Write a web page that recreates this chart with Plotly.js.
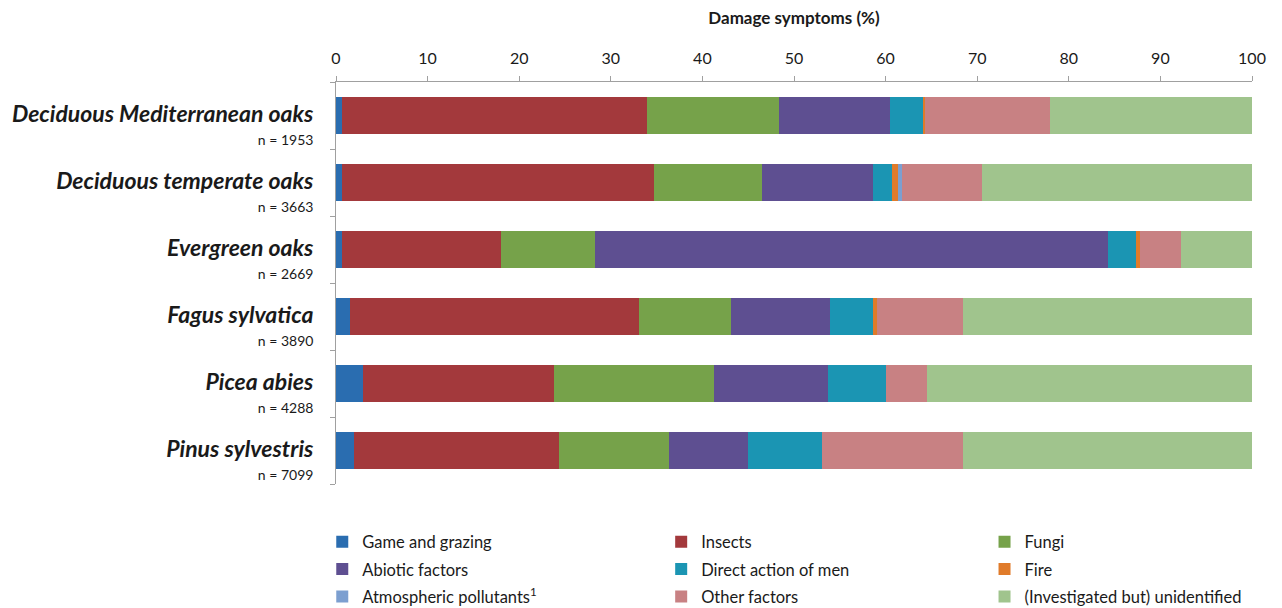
<!DOCTYPE html>
<html>
<head>
<meta charset="utf-8">
<script src="https://cdn.plot.ly/plotly-3.0.1.min.js"></script>
<style>html,body{margin:0;padding:0;background:#fff;}#chart{width:1282px;height:608px;}</style>
</head>
<body>
<div id="chart"></div>
<script>
// Categories (top to bottom) and sample sizes
const species = ["Deciduous Mediterranean oaks", "Deciduous temperate oaks", "Evergreen oaks", "Fagus sylvatica", "Picea abies", "Pinus sylvestris"];
const sampleN = [1953, 3663, 2669, 3890, 4288, 7099];

// Damage symptom shares (%) per species
const gameGrazing   = [0.6, 0.6, 0.6, 1.5, 2.9, 2.0];
const insects       = [33.3, 34.1, 17.4, 31.6, 20.9, 22.3];
const fungi         = [14.5, 11.8, 10.3, 10.0, 17.5, 12.1];
const abiotic       = [12.1, 12.1, 56.0, 10.8, 12.4, 8.6];
const directMen     = [3.6, 2.1, 3.0, 4.7, 6.3, 8.1];
const fire          = [0.2, 0.7, 0.5, 0.5, 0.0, 0.0];
const atmospheric   = [0.0, 0.4, 0.0, 0.0, 0.0, 0.0];
const otherFactors  = [13.7, 8.7, 4.4, 9.3, 4.5, 15.4];
const unidentified  = [22.0, 29.5, 7.8, 31.6, 35.5, 31.5];

const seriesNames = ["Game and grazing", "Insects", "Fungi", "Abiotic factors", "Direct action of men", "Fire", "Atmospheric pollutants<sup>1</sup>", "Other factors", "(Investigated but) unidentified"];
const seriesValues = [gameGrazing, insects, fungi, abiotic, directMen, fire, atmospheric, otherFactors, unidentified];
const seriesColors = ["#2a6db0", "#a3393c", "#76a24a", "#5e4f91", "#1b95b3", "#e07b2a", "#7c9fd0", "#c88183", "#a0c48d"];
const seriesLegend = ["legend", "legend2", "legend3", "legend", "legend2", "legend3", "legend", "legend2", "legend3"];

const tickText = species.map((s, i) => "<span style=\"font-size:23px\"><b><i>" + s + "</i></b></span><br><span style=\"font-size:14px\">n = " + sampleN[i] + "</span>");

const traces = seriesNames.map((name, k) => ({
  type: "bar",
  orientation: "h",
  name: name,
  x: seriesValues[k],
  y: species,
  marker: {color: seriesColors[k], line: {width: 0}},
  legend: seriesLegend[k],
  legendgroup: "g" + k,
  hoverinfo: "x+name"
}));

const font = "Lato, 'Open Sans', sans-serif";
const legendCommon = {
  orientation: "v",
  yref: "container",
  yanchor: "top",
  y: 0.1375,
  xanchor: "left",
  traceorder: "grouped",
  tracegroupgap: 3,
  bgcolor: "rgba(0,0,0,0)",
  font: {family: font, size: 16.5, color: "#1a1a1a"},
  itemclick: false
};

const layout = {
  width: 1282,
  height: 608,
  margin: {l: 336, r: 30, t: 82, b: 124},
  barmode: "stack",
  bargap: 0.44,
  paper_bgcolor: "#ffffff",
  plot_bgcolor: "#ffffff",
  font: {family: font, color: "#1a1a1a"},
  xaxis: {
    side: "top",
    range: [0, 100],
    dtick: 10,
    tick0: 0,
    ticks: "outside",
    ticklen: 5,
    tickcolor: "#a0a0a0",
    showline: true,
    linecolor: "#a0a0a0",
    linewidth: 1,
    showgrid: false,
    zeroline: false,
    ticklabelstandoff: 6,
    tickfont: {family: font, size: 16, color: "#1a1a1a"},
    title: {text: "<b>Damage symptoms (%)</b>", font: {family: font, size: 17, color: "#1a1a1a"}, standoff: 18}
  },
  yaxis: {
    type: "category",
    autorange: "reversed",
    tickmode: "array",
    tickvals: species,
    ticktext: tickText,
    tickson: "boundaries",
    ticks: "outside",
    ticklen: 5,
    tickcolor: "#a0a0a0",
    showline: true,
    linecolor: "#a0a0a0",
    linewidth: 1,
    showgrid: false,
    zeroline: false,
    ticklabelstandoff: 18,
    ticklabelshift: -12,
    tickfont: {family: font, size: 18, color: "#1a1a1a"}
  },
  showlegend: true,
  legend: Object.assign({}, legendCommon, {x: -0.015}),
  legend2: Object.assign({}, legendCommon, {x: 0.355}),
  legend3: Object.assign({}, legendCommon, {x: 0.708})
};

Plotly.newPlot("chart", traces, layout, {displayModeBar: false, staticPlot: true});
</script>
</body>
</html>
